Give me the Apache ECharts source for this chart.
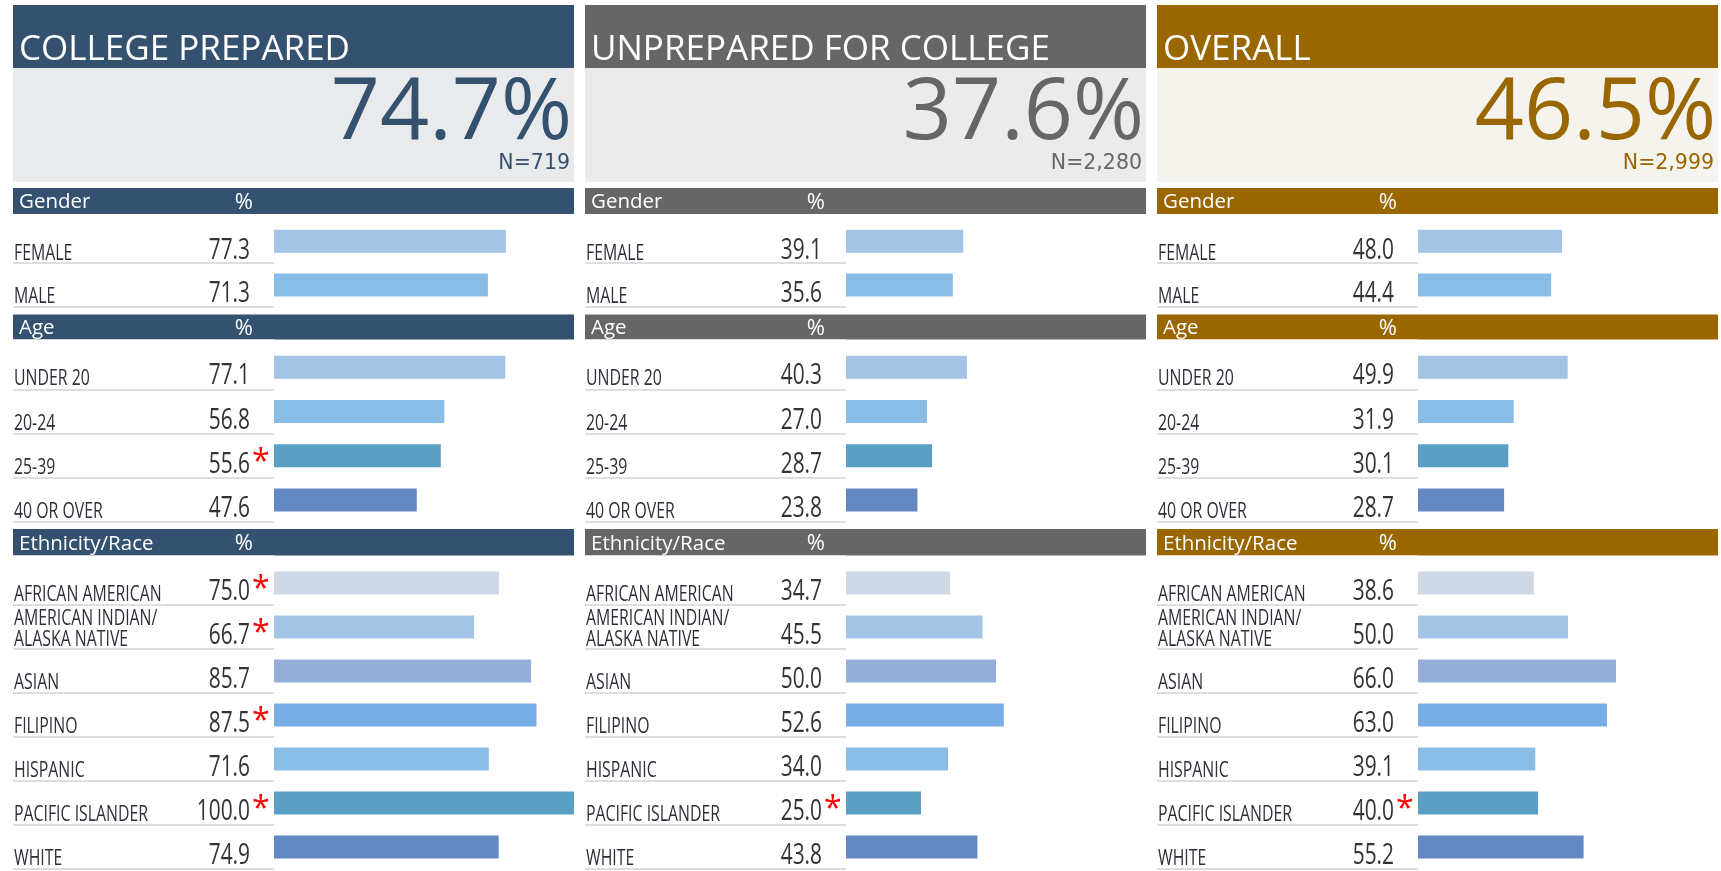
<!DOCTYPE html>
<html>
<head>
<meta charset="utf-8">
<script src="https://cdn.jsdelivr.net/npm/echarts@6/dist/echarts.min.js"></script>
<style>
  html, body { margin: 0; padding: 0; background: #fff; }
  #chart { width: 1721px; height: 871px; }
</style>
</head>
<body>
<div id="chart"></div>
<script>
// values
const panelTitles = ["COLLEGE PREPARED", "UNPREPARED FOR COLLEGE", "OVERALL"];
const panelRates = [74.7, 37.6, 46.5];
const panelCounts = ["N=719", "N=2,280", "N=2,999"];

const sectionTitles = ["Gender", "Age", "Ethnicity/Race"];
const genderCats = ["FEMALE", "MALE"];
const ageCats = ["UNDER 20", "20-24", "25-39", "40 OR OVER"];
const ethCats = [
  "AFRICAN AMERICAN",
  "AMERICAN INDIAN/\nALASKA NATIVE",
  "ASIAN",
  "FILIPINO",
  "HISPANIC",
  "PACIFIC ISLANDER",
  "WHITE",
];

const preparedGender = [77.3, 71.3];
const preparedAge = [77.1, 56.8, 55.6, 47.6];
const preparedEth = [75.0, 66.7, 85.7, 87.5, 71.6, 100.0, 74.9];

const unpreparedGender = [39.1, 35.6];
const unpreparedAge = [40.3, 27.0, 28.7, 23.8];
const unpreparedEth = [34.7, 45.5, 50.0, 52.6, 34.0, 25.0, 43.8];

const overallGender = [48.0, 44.4];
const overallAge = [49.9, 31.9, 30.1, 28.7];
const overallEth = [38.6, 50.0, 66.0, 63.0, 39.1, 40.0, 55.2];

// categories flagged with a red asterisk
const preparedFlags = [[], ["25-39"], ["AFRICAN AMERICAN", "AMERICAN INDIAN/\nALASKA NATIVE", "FILIPINO", "PACIFIC ISLANDER"]];
const unpreparedFlags = [[], [], ["PACIFIC ISLANDER"]];
const overallFlags = [[], [], ["PACIFIC ISLANDER"]];

// styles
const panelColors = ["#34526f", "#666666", "#996600"];
const panelBg = ["#e9eaec", "#ebebeb", "#f4f3ee"];
const genderColors = ["#a4c4e6", "#8abde6"];
const ageColors = ["#a4c4e6", "#8abde6", "#5a9fc3", "#6388c3"];
const ethColors = ["#cfd8e6", "#a4c4e6", "#95add9", "#78ade5", "#8abde6", "#5a9fc3", "#6388c3"];

const SANS = "'Open Sans', 'Noto Sans', sans-serif";
const SQUEEZE = 0.72; // row texts are horizontally condensed in the original

const panelLeft = [13, 585, 1157];
const panelW = 561;
const barOffset = 261;
const sections = [
  { headTop: 188, headBottom: 214, gridTop: 219.5, rowH: 43.6 },
  { headTop: 314.5, headBottom: 339.5, gridTop: 345, rowH: 44.3 },
  { headTop: 529, headBottom: 555.5, gridTop: 561, rowH: 44 },
];

const sectionCats = [genderCats, ageCats, ethCats];
const sectionColors = [genderColors, ageColors, ethColors];
const panelValues = [
  [preparedGender, preparedAge, preparedEth],
  [unpreparedGender, unpreparedAge, unpreparedEth],
  [overallGender, overallAge, overallEth],
];
const panelFlags = [preparedFlags, unpreparedFlags, overallFlags];

const grids = [];
const xAxes = [];
const yAxes = [];
const series = [];
const graphics = [];

const makeRowText = (cats, flags) => (params, api) => {
  const k = api.value(1);
  const name = cats[k];
  const pt = api.coord([0, k]);
  const x0 = pt[0];
  const y = pt[1];
  const twoLines = name.indexOf("\n") >= 0;
  const children = [
    {
      type: "text", x: x0 - barOffset + 1, y: y + (twoLines ? 2 : 12), scaleX: SQUEEZE,
      style: { text: name, fill: "#2e2e38", font: "22px " + SANS, lineHeight: 20.5, verticalAlign: "middle" },
    },
    {
      type: "text", x: x0 - 24, y: y + 9, scaleX: SQUEEZE,
      style: { text: api.value(0).toFixed(1), fill: "#333333", font: "29px " + SANS, align: "right", verticalAlign: "middle" },
    },
  ];
  if (flags.indexOf(name) >= 0) {
    children.push({
      type: "text", x: x0 - 22, y: y + 7,
      style: { text: "*", fill: "#ff0000", font: "32px " + SANS, verticalAlign: "middle" },
    });
  }
  return { type: "group", children: children };
};

panelLeft.forEach((left, p) => {
  const color = panelColors[p];
  // title band
  graphics.push({
    type: "rect", z: 100,
    shape: { x: left, y: 5, width: panelW, height: 63 },
    style: { fill: color },
  });
  graphics.push({
    type: "text", z: 101,
    style: { text: panelTitles[p], x: left + 6, y: 50, fill: "#fff", font: "35px " + SANS, verticalAlign: "middle" },
  });
  // big number box
  graphics.push({
    type: "rect", z: 100,
    shape: { x: left, y: 68, width: panelW, height: 114 },
    style: { fill: panelBg[p] },
  });
  graphics.push({
    type: "text", z: 101,
    style: { text: panelRates[p].toFixed(1) + "%", x: left + panelW - 2, y: 114, fill: color, font: "86px " + SANS, align: "right", verticalAlign: "middle" },
  });
  graphics.push({
    type: "text", z: 101,
    style: { text: panelCounts[p], x: left + panelW - 4, y: 164, fill: color, font: "20.5px 'DejaVu Sans', sans-serif", align: "right", verticalAlign: "middle" },
  });

  sections.forEach((sec, s) => {
    const idx = grids.length;
    const cats = sectionCats[s];
    const vals = panelValues[p][s];
    const flags = panelFlags[p][s];
    const mid = (sec.headTop + sec.headBottom) / 2 + 1.5;
    // section header
    graphics.push({
      type: "rect", z: 100,
      shape: { x: left, y: sec.headTop, width: panelW, height: sec.headBottom - sec.headTop },
      style: { fill: color },
    });
    graphics.push({
      type: "text", z: 101,
      style: { text: sectionTitles[s], x: left + 6, y: mid, fill: "#fff", font: "20.5px " + SANS, verticalAlign: "middle" },
    });
    graphics.push({
      type: "text", z: 101,
      style: { text: "%", x: left + 240, y: mid, fill: "#fff", font: "22px " + SANS, align: "right", verticalAlign: "middle" },
    });
    // hide the top tick line just under the header
    graphics.push({
      type: "rect", z: 100,
      shape: { x: left - 2, y: sec.headBottom, width: barOffset + 2, height: sec.gridTop - sec.headBottom + 2 },
      style: { fill: "#fff" },
    });

    grids.push({
      left: left + barOffset,
      width: panelW - barOffset,
      top: sec.gridTop,
      height: sec.rowH * cats.length,
    });
    xAxes.push({ type: "value", gridIndex: idx, min: 0, max: 100, show: false });
    yAxes.push({
      type: "category", gridIndex: idx, data: cats, inverse: true,
      axisLine: { show: false },
      axisTick: { show: true, interval: 0, length: barOffset, lineStyle: { color: "#dedede", width: 2 } },
      axisLabel: { show: false },
    });
    series.push({
      type: "bar", xAxisIndex: idx, yAxisIndex: idx, barWidth: 23, silent: true,
      data: vals.map((v, k) => ({ value: v, itemStyle: { color: sectionColors[s][k] } })),
    });
    series.push({
      type: "custom", xAxisIndex: idx, yAxisIndex: idx, silent: true, clip: false,
      data: vals.map((v, k) => [v, k]),
      encode: { x: 0, y: 1 },
      renderItem: makeRowText(cats, flags),
    });
  });
});

const chart = echarts.init(document.getElementById("chart"));
chart.setOption({
  animation: false,
  backgroundColor: "#ffffff",
  grid: grids,
  xAxis: xAxes,
  yAxis: yAxes,
  series: series,
  graphic: graphics,
});
</script>
</body>
</html>
